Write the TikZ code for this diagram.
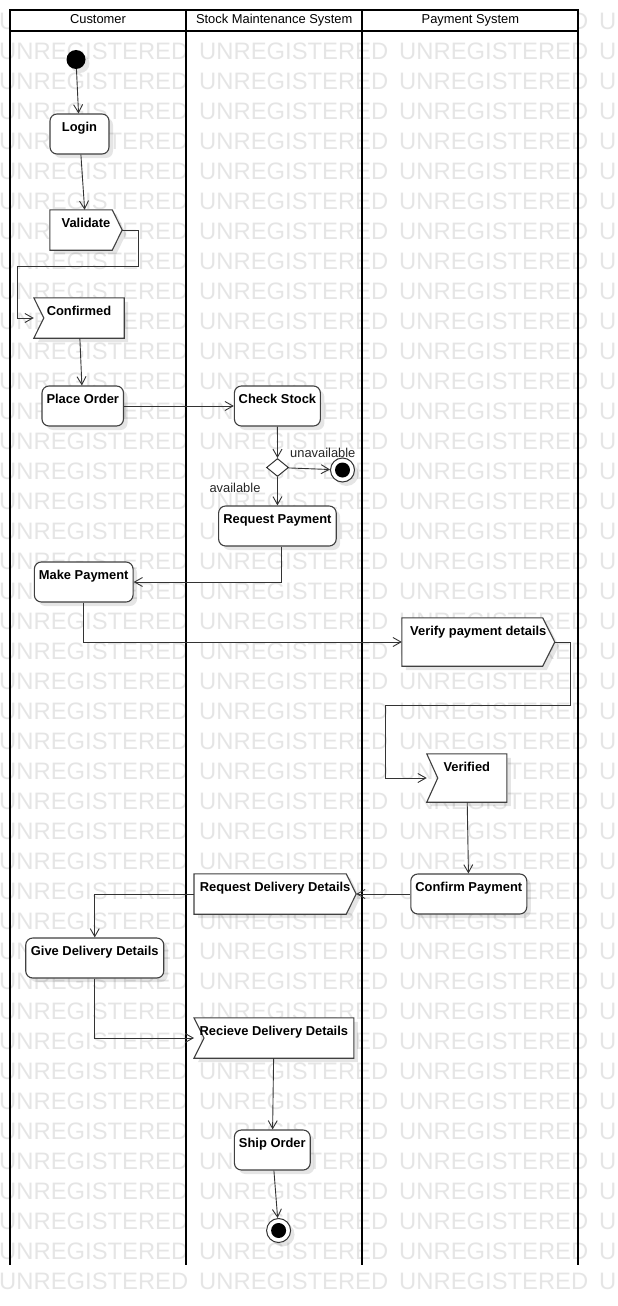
\documentclass[tikz,border=0pt]{standalone}
\usepackage{fontspec}
\setmainfont{Liberation Sans}
\usetikzlibrary{arrows.meta,shapes.geometric,shadows}
\pgfdeclarelayer{wmark}
\pgfdeclarelayer{shape}
\pgfsetlayers{wmark,shape,main}

\begin{document}
\begin{tikzpicture}[x=1pt,y=-1pt,
  lane/.style={line width=1.8pt},
  head/.style={anchor=base,inner sep=0pt,font=\fontsize{12.9}{15}\selectfont},
  lbl/.style={anchor=base,inner sep=0pt,text=black!85,font=\fontsize{12.9}{15}\selectfont},
  wm/.style={anchor=base west,inner sep=0pt,text=black!10,font=\fontsize{23.8}{26}\selectfont},
  shade/.style={drop shadow={shadow xshift=4pt,shadow yshift=-4pt,opacity=.1,fill=black}},
  act/.style={draw=black!75,line width=1.1pt,fill=white,rounded corners=7pt,inner sep=0pt,
    text height=17pt,text depth=23pt,font=\fontsize{12.9}{15}\selectfont\bfseries,shade},
  sig/.style={inner sep=0pt,text height=17pt,text depth=23pt,font=\fontsize{12.9}{15}\selectfont\bfseries},
  sigline/.style={draw=black!75,line width=1.1pt,fill=white,shade},
  startnode/.style={circle,fill=black,minimum size=19pt,inner sep=0pt,shade},
  endnode/.style={circle,draw=black!80,line width=1pt,fill=white,minimum size=24pt,inner sep=0pt,shade},
  choice/.style={diamond,draw=black!80,line width=1pt,fill=white,minimum width=22pt,minimum height=18pt,inner sep=0pt},
  flow/.style={draw=black!80,line width=.9pt,-{Straight Barb[length=8pt,width=9pt]}}]
 \useasboundingbox (0,0) rectangle (618,1306);
 \begin{pgfonlayer}{wmark}
  \clip (0,0) rectangle (618,1306);
  \foreach \r in {0,...,42}
   \foreach \c in {0,...,3}
    \node[wm] (wm-\r-\c) at (\c*200-1,29.5+\r*30) {UNREGISTERED};
 \end{pgfonlayer}
 \draw[lane,fill=white] (10,10) rectangle (578,31);
 \foreach \x in {10,186,362,578}
  \draw[lane] (\x,10) -- (\x,1265);
 \node[head] (laneA) at (98,24) {Customer};
 \node[head] (laneB) at (274.2,24) {Stock Maintenance System};
 \node[head] (laneC) at (470.4,24) {Payment System};
 \node[startnode] (start) at (76,59.5) {};
 \node[act,minimum width=59pt] (login) at (79.5,134) {Login};
 \node[sig,minimum width=72pt] (validate) at (86,230) {Validate};
 \node[sig,minimum width=90pt] (confirmed) at (79,318) {Confirmed};
 \node[act,minimum width=81.5pt] (placeorder) at (82.75,406) {Place Order};
 \node[act,minimum width=86pt] (checkstock) at (277.4,406) {Check Stock};
 \node[choice] (avail) at (277.5,467.5) {};
 \node[endnode] (stop) at (342.5,470) {};
 \fill (stop) circle (7.5pt);
 \node[lbl] (lblno) at (322.8,457) {unavailable};
 \node[lbl] (lblyes) at (235,492.6) {available};
 \node[act,minimum width=117.6pt] (reqpay) at (277.4,526) {Request Payment};
 \node[act,minimum width=98.7pt] (makepay) at (83.7,582) {Make Payment};
 \node[sig,minimum width=152.5pt,text depth=31pt] (verify) at (478.3,642) {Verify payment details};
 \node[sig,minimum width=79.7pt,text depth=31pt] (verified) at (466.8,778) {Verified};
 \node[act,minimum width=116pt] (confirmpay) at (468.8,894) {Confirm Payment};
 \node[sig,minimum width=161.8pt] (reqdel) at (275.1,894) {Request Delivery Details};
 \node[act,minimum width=138pt] (givedel) at (94.75,958) {Give Delivery Details};
 \node[sig,minimum width=159.4pt] (recdel) at (273.9,1038) {Recieve Delivery Details};
 \node[act,minimum width=75.8pt] (shiporder) at (272.3,1150) {Ship Order};
 \node[endnode] (finish) at (278.6,1230.5) {};
 \fill (finish) circle (7.5pt);
 \begin{pgfonlayer}{shape}
  \foreach \n/\d in {validate/10,verify/12,reqdel/10}
   \draw[sigline] (\n.north west) -- ([xshift=-\d]\n.north east) -- (\n.east)
    -- ([xshift=-\d]\n.south east) -- (\n.south west) -- cycle;
  \foreach \n/\d in {confirmed/10,verified/11,recdel/10}
   \draw[sigline] (\n.north west) -- (\n.north east) -- (\n.south east)
    -- (\n.south west) -- ([xshift=\d]\n.west) -- cycle;
 \end{pgfonlayer}
 \draw[flow] (start) -- (login);
 \draw[flow] (login) -- (validate);
 \draw[flow] (validate.east) -- ++(16,0) -- ++(0,36) -| ([xshift=-16]confirmed.west) -- (confirmed.west);
 \draw[flow] (confirmed) -- (placeorder);
 \draw[flow] (placeorder) -- (checkstock);
 \draw[flow] (checkstock) -- (avail);
 \draw[flow] (avail) -- (stop);
 \draw[flow] (avail) -- (reqpay);
 \draw[flow] ([xshift=4]reqpay.south) |- (makepay.east);
 \draw[flow] (makepay.south) |- (verify.west);
 \draw[flow] (verify.east) -- ++(16,0) -- ++(0,63) -| ([xshift=-41]verified.west) -- (verified.west);
 \draw[flow] (verified) -- (confirmpay);
 \draw[flow] (confirmpay) -- (reqdel.east);
 \draw[flow] (reqdel.west) -| (givedel);
 \draw[flow] (givedel) |- (recdel.west);
 \draw[flow] (recdel) -- (shiporder);
 \draw[flow] (shiporder) -- (finish);
\end{tikzpicture}
\end{document}
